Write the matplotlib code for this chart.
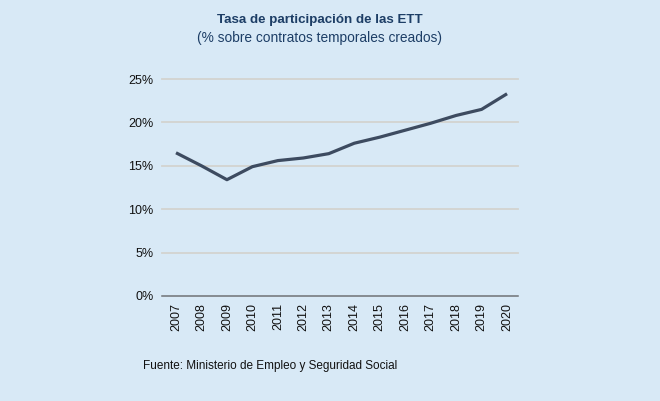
import matplotlib
matplotlib.use("Agg")
import matplotlib.pyplot as plt
from matplotlib.ticker import FuncFormatter

plt.rcParams['font.family'] = ['Liberation Sans', 'DejaVu Sans']

years = [str(y) for y in range(2007, 2021)]
values = [16.5, 15.0, 13.4, 14.9, 15.6, 15.9, 16.4, 17.6, 18.3, 19.1, 19.9, 20.8, 21.5, 23.3]
yticks = [0, 5, 10, 15, 20, 25]

bg = '#d8e9f6'
fig = plt.figure(figsize=(6.6, 4.01), dpi=100, facecolor=bg)
ax = fig.add_axes([162/660, 1-296/401, (518-162)/660, (296-79)/401], facecolor=bg)

x = list(range(len(years)))
ax.plot(x, values, color='#3d4b60', lw=2.3, solid_capstyle='butt', zorder=3)

ax.set_ylim(0, 25)
ax.set_xlim(-0.55, len(years) - 1 + 0.43)
ax.set_yticks(yticks)
ax.yaxis.set_major_formatter(FuncFormatter(lambda v, p: f"{int(v)}%"))
ax.set_xticks(x)
ax.set_xticklabels(years, rotation=90)
for v in yticks[1:]:
    ax.axhline(v, color='#d3d3d0', lw=1.3, zorder=1, clip_on=False)
ax.axhline(0, color='#6f7275', lw=1.1, zorder=2, clip_on=False)
for s in ax.spines.values():
    s.set_visible(False)
ax.tick_params(axis='both', length=0, labelsize=9, colors='#111111')
ax.tick_params(axis='x', pad=5)
ax.tick_params(axis='y', pad=6)

fig.text(0.484, 1-20/401, 'Tasa de participación de las ETT', ha='center', va='center',
         fontsize=9.6, fontweight='bold', color='#1d3e66')
fig.text(0.484, 1-38/401, '(% sobre contratos temporales creados)', ha='center', va='center',
         fontsize=9.9, color='#1d3e66')
fig.text(143/660, 1-366/401, 'Fuente: Ministerio de Empleo y Seguridad Social', ha='left', va='center',
         fontsize=8.5, color='#111111')

fig.savefig('out.png', dpi=100, facecolor=bg)
